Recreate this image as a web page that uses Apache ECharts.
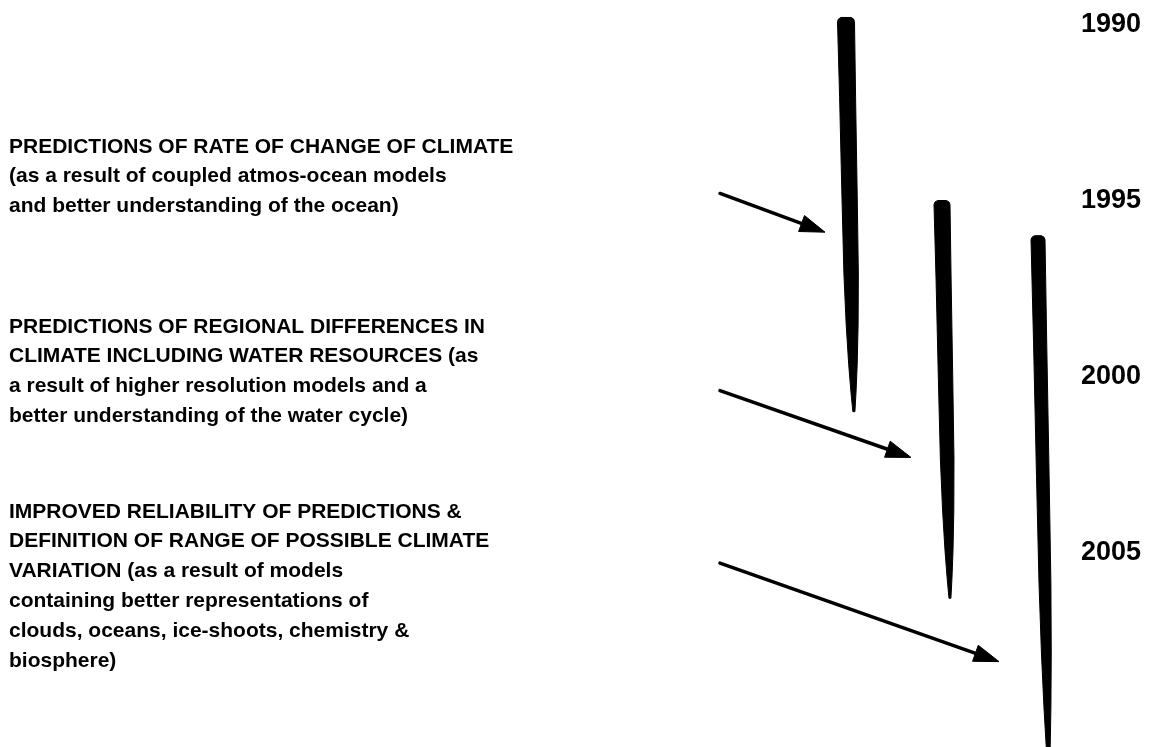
<!DOCTYPE html>
<html>
<head>
<meta charset="utf-8">
<title>Climate prediction timeline</title>
<script src="https://cdn.jsdelivr.net/npm/echarts@6.0.0/dist/echarts.min.js"></script>
<style>
  html, body { margin: 0; padding: 0; background: #fff; }
  #chart { width: 1153px; height: 747px; }
</style>
</head>
<body>
<div id="chart"></div>
<script>
// three lines of work, each drawn as a tapering bar down the time axis
const categories = ['Rate of change', 'Regional differences', 'Reliability & range'];
const wedgeStart = [1989.8, 1995.0, 1996.0];
const wedgeEnd = [2001.0, 2006.3, 2011.2];

// arrows from the notes to the bars (year at the tail, year at the head)
const arrowFrom = [1994.8, 2000.4, 2005.3];
const arrowTo = [1995.9, 2002.3, 2008.1];

const yearTicks = [1990, 1995, 2000, 2005];

const notes = [
  [
    'PREDICTIONS OF RATE OF CHANGE OF CLIMATE',
    '(as a result of coupled atmos-ocean models',
    'and better understanding of the ocean)'
  ],
  [
    'PREDICTIONS OF REGIONAL DIFFERENCES IN',
    'CLIMATE INCLUDING WATER RESOURCES (as',
    'a result of higher resolution models and a',
    'better understanding of the water cycle)'
  ],
  [
    'IMPROVED RELIABILITY OF PREDICTIONS &',
    'DEFINITION OF RANGE OF POSSIBLE CLIMATE',
    'VARIATION (as a result of models',
    'containing better representations of',
    'clouds, oceans, ice-shoots, chemistry &',
    'biosphere)'
  ]
];

// drawing styles
const FONT = "'Liberation Sans', Arial, Helvetica, sans-serif";
const WEDGE_WIDTH = [17, 16, 14];
const ARROW_GAP = [21, 31, 39];
const ARROW_X0 = 720;
const NOTE_TOP = [132, 312, 497];
// width of the bar (fraction) along its length
const PROFILE = [[0, 1], [0.2, 0.94], [0.45, 0.9], [0.65, 0.85], [0.78, 0.7], [0.88, 0.5], [0.95, 0.3], [1, 0.12]];

let chart = echarts.init(document.getElementById('chart'));

function renderWedge(params, api) {
  let i = api.value(0);
  let top = api.coord([i, api.value(1)]);
  let bot = api.coord([i, api.value(2)]);
  let len = bot[1] - top[1];
  let drift = len * 0.02;
  let w = WEDGE_WIDTH[params.dataIndex] / 2;
  let left = [], right = [];
  PROFILE.forEach(function (p) {
    let y = top[1] + p[0] * len;
    let cx = top[0] + p[0] * drift;
    left.push([cx - w * p[1], y]);
    right.unshift([cx + w * p[1], y]);
  });
  // round the top corners a little
  let cx0 = top[0], y0 = top[1];
  left[0] = [cx0 - w, y0 + 4];
  let cap = [[cx0 + w, y0 + 4], [cx0 + w - 1, y0 + 1.5], [cx0 + w - 3.5, y0], [cx0 - w + 3.5, y0], [cx0 - w + 1, y0 + 1.5]];
  right[right.length - 1] = cap[0];
  let points = left.concat(right, cap.slice(1));
  return {
    type: 'polygon',
    shape: { points: points, smooth: 0 },
    style: { fill: '#000', stroke: '#000', lineWidth: 1, lineJoin: 'round' }
  };
}

function renderArrow(params, api) {
  let i = api.value(0);
  let k = params.dataIndex;
  let tail = [ARROW_X0, api.coord([i, api.value(1)])[1]];
  let tip = api.coord([i, api.value(2)]);
  tip = [tip[0] - ARROW_GAP[k], tip[1]];
  let dx = tip[0] - tail[0], dy = tip[1] - tail[1];
  let d = Math.sqrt(dx * dx + dy * dy);
  let ux = dx / d, uy = dy / d;
  let headLen = 25, headW = 8.5;
  let bx = tip[0] - ux * headLen, by = tip[1] - uy * headLen;
  return {
    type: 'group',
    children: [
      {
        type: 'line',
        shape: { x1: tail[0], y1: tail[1], x2: bx + ux * 4, y2: by + uy * 4 },
        style: { stroke: '#000', lineWidth: 3.5, lineCap: 'round' }
      },
      {
        type: 'polygon',
        shape: {
          points: [
            tip,
            [bx - uy * headW, by + ux * headW],
            [bx + uy * headW, by - ux * headW]
          ]
        },
        style: { fill: '#000', stroke: '#000', lineWidth: 1, lineJoin: 'round' }
      }
    ]
  };
}

let wedgeData = categories.map(function (c, i) {
  return [i, wedgeStart[i], wedgeEnd[i]];
});
let arrowData = categories.map(function (c, i) {
  return [i, arrowFrom[i], arrowTo[i]];
});

let noteGraphics = notes.map(function (lines, i) {
  return {
    type: 'text',
    left: 9,
    top: NOTE_TOP[i],
    style: {
      text: lines.join('\n'),
      fill: '#000',
      fontFamily: FONT,
      fontSize: 21,
      fontWeight: 'bold',
      lineHeight: 29.8
    }
  };
});

let option = {
  backgroundColor: '#fff',
  animation: false,
  grid: {
    left: 798,
    width: 288,
    top: 24.5,
    height: 704
  },
  xAxis: {
    type: 'category',
    data: categories,
    show: false
  },
  yAxis: {
    type: 'value',
    position: 'right',
    inverse: true,
    min: 1990,
    max: 2010,
    axisLine: { show: false },
    axisTick: { show: false },
    splitLine: { show: false },
    axisLabel: {
      customValues: yearTicks,
      formatter: function (v) { return String(v); },
      margin: -5,
      color: '#000',
      fontFamily: FONT,
      fontSize: 27,
      fontWeight: 'bold'
    }
  },
  graphic: noteGraphics,
  series: [
    {
      type: 'custom',
      name: 'wedges',
      clip: false,
      renderItem: renderWedge,
      encode: { x: 0, y: [1, 2] },
      data: wedgeData
    },
    {
      type: 'custom',
      name: 'arrows',
      clip: false,
      renderItem: renderArrow,
      encode: { x: 0, y: [1, 2] },
      data: arrowData
    }
  ]
};

chart.setOption(option, true);
</script>
</body>
</html>
